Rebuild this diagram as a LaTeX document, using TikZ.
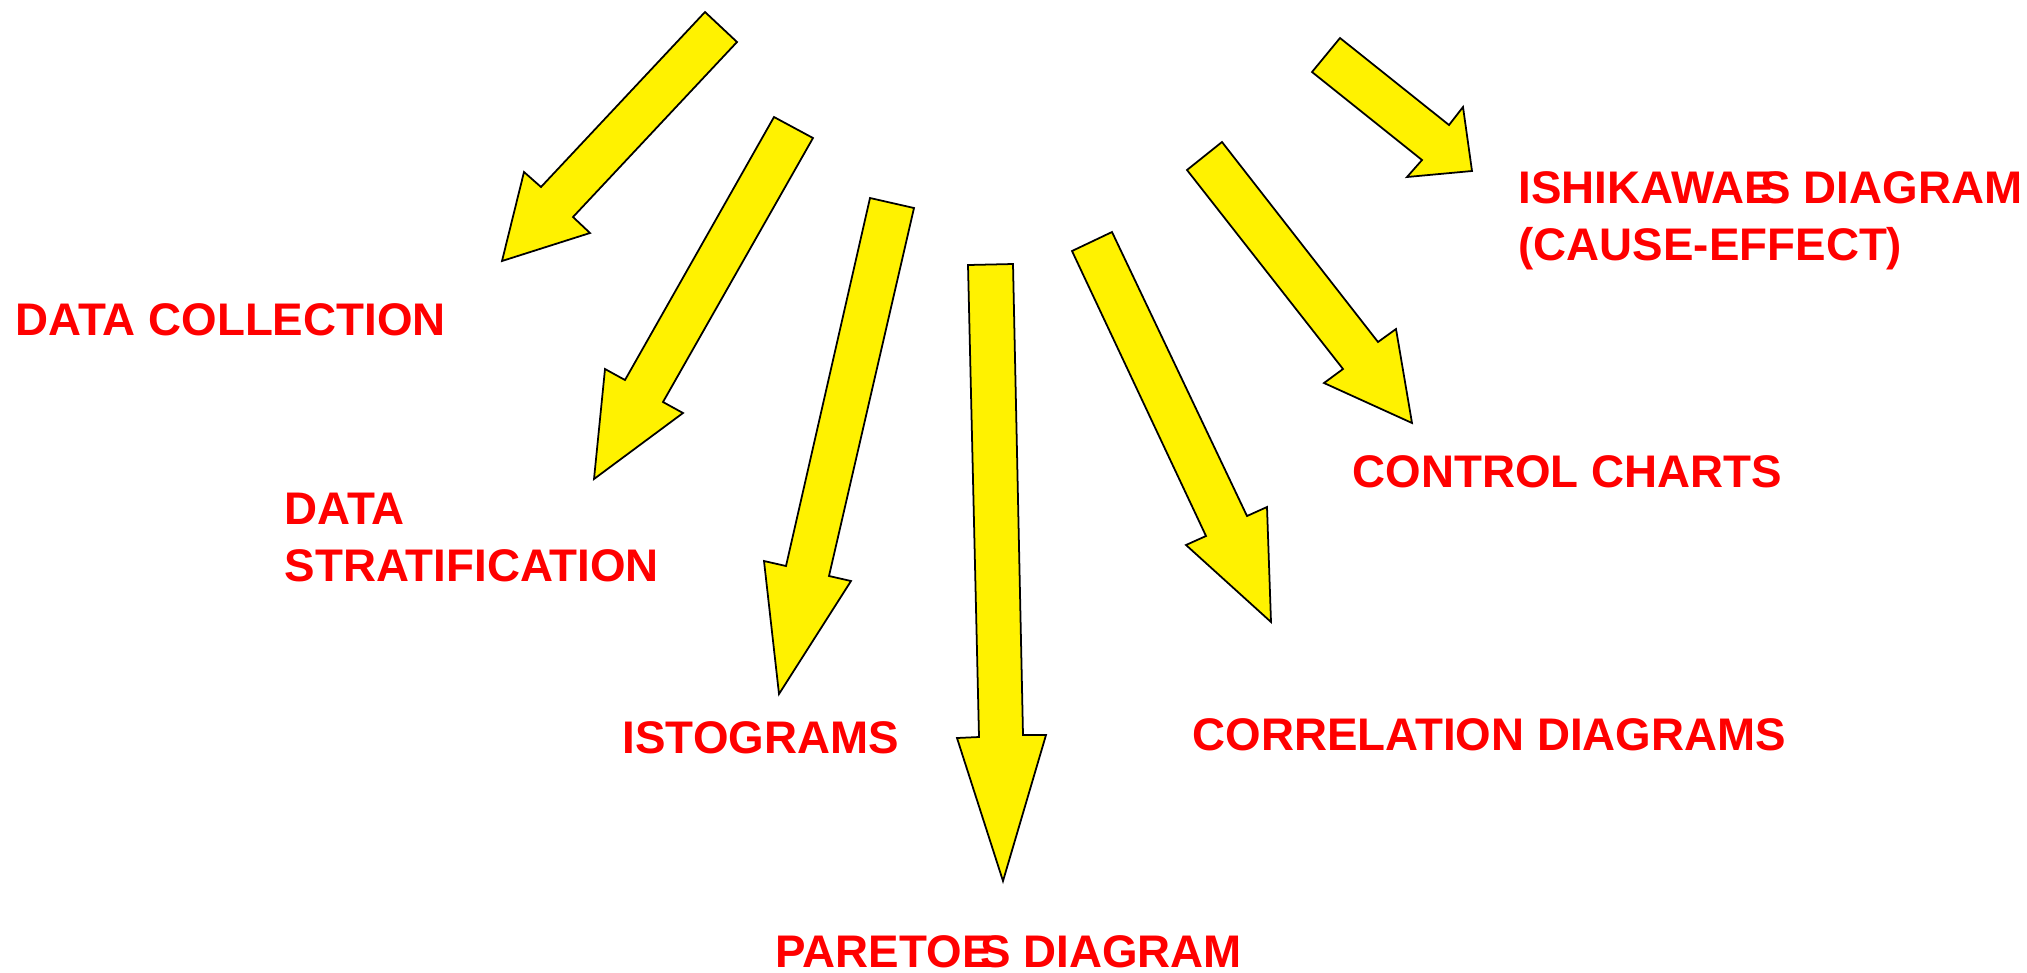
\documentclass[tikz,border=0pt]{standalone}
\usepackage{fontspec}
\setmainfont{Liberation Sans}
\newcommand{\toolfont}{\fontsize{13}{16.2}\selectfont\bfseries}
\tikzset{
  bigarrow/.style={draw=black, fill=yellow, line width=0.5pt, line join=miter},
  toollabel/.style={text=red, font=\toolfont, inner sep=0pt, anchor=base west},
  toollabels/.style={text=red, font=\toolfont, inner sep=0pt, anchor=north west, align=left}
}
\begin{document}
\begin{tikzpicture}[x=0.01cm,y=-0.01cm]
        \useasboundingbox (0,0) rectangle (2027,972);
        \draw [bigarrow] (705,12) -- (737,42) -- (573,217) -- (590,233) -- (502,261) -- (524,172) -- (541,187) -- cycle;
        \draw [bigarrow] (774,117) -- (813,138) -- (663,402) -- (683,413) -- (594,479) -- (605,369) -- (625,380) -- cycle;
        \draw [bigarrow] (870,198) -- (914,208) -- (829,576) -- (851,581) -- (779,694) -- (764,561) -- (786,566) -- cycle;
        \draw [bigarrow] (968,265) -- (1013,264) -- (1023,735) -- (1046,735) -- (1003,881) -- (957,738) -- (979,737) -- cycle;
        \draw [bigarrow] (1072,251) -- (1112,232) -- (1247,516) -- (1267,507) -- (1271,622) -- (1186,545) -- (1206,536) -- cycle;
        \draw [bigarrow] (1187,170) -- (1222,142) -- (1378,342) -- (1396,329) -- (1412,423) -- (1324,383) -- (1343,369) -- cycle;
        \draw [bigarrow] (1312,72) -- (1340,38) -- (1449,125) -- (1463,107) -- (1472,171) -- (1407,177) -- (1422,160) -- cycle;
        \node [toollabel] (collection) at (15,335) {DATA COLLECTION};
        \node [toollabels] (stratification) at (284,492) {DATA\\STRATIFICATION};
        \node [toollabel] (histograms) at (622,753) {ISTOGRAMS};
        \node [toollabel] (pareto) at (775,967) {PARETO\rlap{E}\kern.4em S DIAGRAM};
        \node [toollabel] (correlation) at (1192,750) {CORRELATION DIAGRAMS};
        \node [toollabel] (control) at (1352,487) {CONTROL CHARTS};
        \node [toollabels] (ishikawa) at (1518,171) {ISHIKAWA\rlap{E}\kern.35em S DIAGRAM\\(CAUSE-EFFECT)};
    \end{tikzpicture}
\end{document}
